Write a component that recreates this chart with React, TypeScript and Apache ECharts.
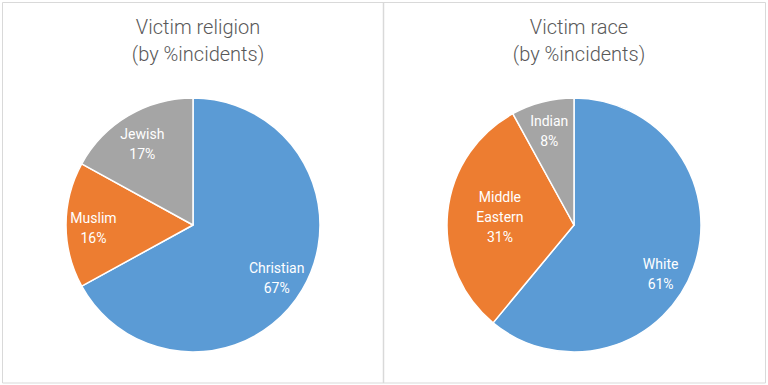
import React, { useEffect, useRef } from "react";
import * as echarts from "echarts";

const religionNames = ["Christian", "Muslim", "Jewish"];
const religionValues = [67, 16, 17];
const raceNames = ["White", "Middle Eastern", "Indian"];
const raceLabels = ["White", "Middle\nEastern", "Indian"];
const raceValues = [61, 31, 8];
const sliceColors = ["#5B9BD5", "#ED7D31", "#A5A5A5"];
const titles = ["Victim religion\n(by %incidents)", "Victim race\n(by %incidents)"];

const FONT = "'Roboto', sans-serif";

export default function App() {
  const ref = useRef<HTMLDivElement>(null);
  useEffect(() => {
    document.body.style.margin = "0";
    const chart = echarts.init(ref.current!, null, { renderer: "svg" });
    const R = 127;
    const mk = (names: string[], labels: string[], values: number[]) =>
      names.map((n, i) => ({
        name: n,
        value: values[i],
        labelText: labels[i],
        itemStyle: { color: sliceColors[i] },
      }));
    const relData = mk(religionNames, religionNames, religionValues);
    const raceData = mk(raceNames, raceLabels, raceValues);
    const base = (center: number[], data: any[]) => ({
      type: "pie",
      center,
      radius: [0, R],
      startAngle: 90,
      clockwise: true,
      avoidLabelOverlap: false,
      label: { show: false },
      labelLine: { show: false },
      itemStyle: { borderColor: "#ffffff", borderWidth: 1.5 },
      emphasis: { disabled: true },
      data,
    });
    const labelSeries = (center: number[], data: any[], offsets: Record<string, number[]>) => ({
      type: "pie",
      center,
      radius: [R * 0.52, R],
      startAngle: 90,
      clockwise: true,
      silent: true,
      avoidLabelOverlap: false,
      labelLine: { show: false },
      itemStyle: { color: "transparent" },
      emphasis: { disabled: true },
      label: {
        show: true,
        position: "inside",
        color: "#ffffff",
        fontSize: 14,
        lineHeight: 20,
        fontFamily: FONT,
        formatter: (p: any) => `${p.data.labelText}\n${p.value}%`,
      },
      data: data.map((d) => ({
        name: d.name,
        value: d.value,
        labelText: d.labelText,
        label: offsets[d.name] ? { offset: offsets[d.name] } : undefined,
      })),
    });
    const titleStyle = {
      fontSize: 20,
      lineHeight: 27,
      color: "#595959",
      fontWeight: 300,
      fontFamily: FONT,
    };
    chart.setOption({
      animation: false,
      backgroundColor: "#ffffff",
      title: [
        { text: titles[0], left: 193, top: 8, textAlign: "center", textStyle: titleStyle },
        { text: titles[1], left: 574, top: 8, textAlign: "center", textStyle: titleStyle },
      ],
      graphic: [
        {
          type: "rect",
          shape: { x: 2.5, y: 2.5, width: 763, height: 380.5 },
          style: { fill: "none", stroke: "#d9d9d9", lineWidth: 1 },
          silent: true,
        },
        {
          type: "line",
          shape: { x1: 383.5, y1: 2.5, x2: 383.5, y2: 383 },
          style: { stroke: "#d9d9d9", lineWidth: 1.5 },
          silent: true,
        },
      ],
      series: [
        base([193, 225], relData),
        base([574, 225], raceData),
        labelSeries([193, 225], relData, { Christian: [-2, 2], Jewish: [0, 5], Muslim: [0, 3] }),
        labelSeries([574, 225], raceData, { "Middle Eastern": [25, 1], White: [-7, 15], Indian: [0, 2] }),
      ],
    });
    return () => chart.dispose();
  }, []);
  return <div ref={ref} style={{ width: 768, height: 385 }} />;
}
